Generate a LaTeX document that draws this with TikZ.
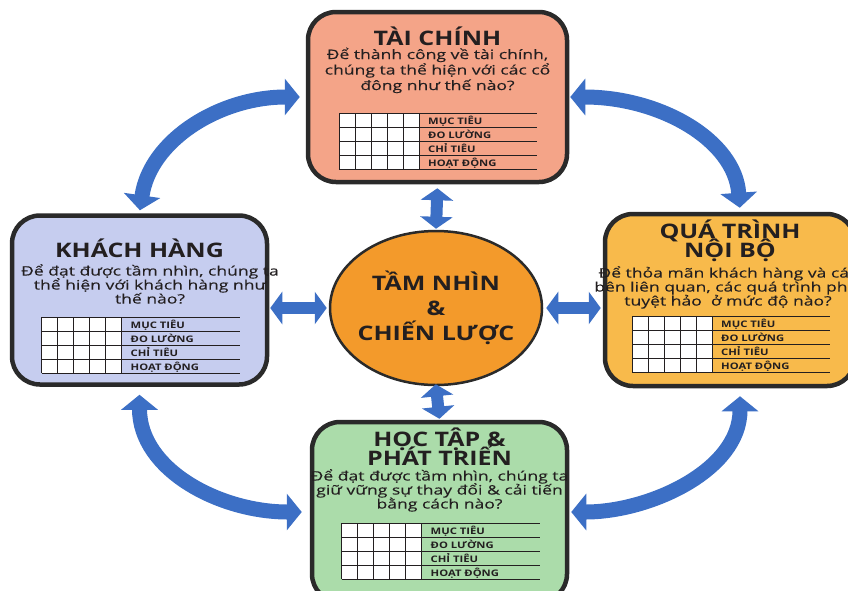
\documentclass[tikz,border=0pt]{standalone}
\usepackage{fontspec}
\setmainfont{Open Sans}[FakeStretch=1.25]
\newfontfamily\qfont{Open Sans}[FakeStretch=1.35,FakeBold=0.2]
\usetikzlibrary{arrows.meta,shapes.geometric}
\definecolor{ink}{HTML}{231F20}
\definecolor{cardline}{HTML}{2A2A2A}
\definecolor{arrowblue}{HTML}{3C6FC5}
\definecolor{finfill}{HTML}{F4A488}
\definecolor{custfill}{HTML}{C6CDEF}
\definecolor{procfill}{HTML}{F8BA4B}
\definecolor{learnfill}{HTML}{ABDCAA}
\definecolor{visionfill}{HTML}{F39A2B}
\lineskiplimit=-30pt

\newcommand{\scorecard}[3]{%
  \fill[white] (#2,#3) rectangle (#2+80,#3+56);
  \foreach \c in {0,...,5} \draw[gridline] (#2+16*\c,#3) -- (#2+16*\c,#3+56);
  \foreach \r in {0,...,4} \draw[gridline] (#2,#3+14*\r) -- (#2+198,#3+14*\r);
  \foreach \t [count=\r from 0] in {MỤC TIÊU,ĐO LƯỜNG,CHỈ TIÊU,HOẠT ĐỘNG}
    \node[lbl] (#1-\r) at (#2+89,#3+14*\r+11) {\t};
}

\begin{document}
\begin{tikzpicture}[x=1pt,y=-1pt,
  card/.style={rectangle, rounded corners=28pt, draw=cardline, line width=4.5pt},
  ttl/.style={font=\fontsize{20}{18.5}\selectfont\bfseries, text=ink, align=center, inner sep=0pt},
  qst/.style={font=\qfont\fontsize{13}{14}\selectfont, text=ink, align=center, inner sep=0pt, anchor=north},
  lbl/.style={font=\fontsize{9}{9}\selectfont\bfseries, text=ink, inner sep=0pt, anchor=base west},
  gridline/.style={draw=ink, line width=0.8pt},
  bigarrow/.style={draw=arrowblue, line width=15pt, {Triangle[width=36pt,length=15pt]}-{Triangle[width=36pt,length=15pt]}},
  smallarrow/.style={draw=arrowblue, line width=12pt, {Triangle[width=32pt,length=12pt]}-{Triangle[width=32pt,length=12pt]}}]
\useasboundingbox (0,0) rectangle (848,590);

\node[card, fill=finfill, minimum width=259pt, minimum height=170pt] (tc) at (437.5,97) {};
\node[card, fill=custfill, minimum width=255pt, minimum height=169pt] (kh) at (139.5,300) {};
\node[card, fill=procfill, minimum width=250pt, minimum height=172pt] (qt) at (730,300) {};
\node[card, fill=learnfill, minimum width=255pt, minimum height=180pt] (ht) at (439.5,512) {};
\node[ellipse, draw=cardline, line width=2.5pt, fill=visionfill, minimum width=212pt, minimum height=154pt] (vs) at (436,308) {};
\node[font=\fontsize{20}{25}\selectfont\bfseries, text=ink, align=center, inner sep=0pt] (vstext) at (vs.center)
  {TẦM NHÌN\\ \&\\ CHIẾN LƯỢC};

\node[ttl, anchor=base] (tctitle) at (437.5,45) {TÀI CHÍNH};
\node[qst, font=\qfont\fontsize{13}{15.5}\selectfont] (tctext) at (437.5,47.5) {Để thành công về tài chính,\\ chúng ta thể hiện với các cổ\\ đông như thế nào?};
\scorecard{tc}{339}{113}

\node[ttl, anchor=base] (khtitle) at (139.5,257) {KHÁCH HÀNG};
\node[qst] (khtext) at (150,264) {Để đạt được tầm nhìn, chúng ta\\ thể hiện với khách hàng như\\ thế nào?};
\scorecard{kh}{41.5}{317}

\node[ttl, anchor=north] (qttitle) at (730,220) {QUÁ TRÌNH\\ NỘI BỘ};
\node[qst] (qttext) at (728,266) {Để thỏa mãn khách hàng và các\\ bên liên quan, các quá trình phải\\ tuyệt hảo \ ở mức độ nào?};
\scorecard{qt}{632}{316}

\node[ttl, anchor=north] (httitle) at (439.5,428) {HỌC TẬP \&\\ PHÁT TRIỂN};
\node[qst] (httext) at (439.5,469) {Để đạt được tầm nhìn, chúng ta\\ giữ vững sự thay đổi \& cải tiến\\ bằng cách nào?};
\scorecard{ht}{341.5}{523}

\draw[smallarrow, shorten <=4pt, shorten >=1pt] (tc.south) -- (vs.north);
\draw[smallarrow, shorten <=-2pt, shorten >=1pt] (vs.south) -- (ht.north);
\draw[smallarrow, shorten <=1pt, shorten >=2pt] (kh.east |- vs.west) -- (vs.west);
\draw[smallarrow, shorten <=3pt, shorten >=2pt] (vs.east) -- (qt.west |- vs.east);

\draw[bigarrow, shorten <=6pt, shorten >=3pt] (tc.west) .. controls (220,97) and (150,140) .. (kh.north);
\draw[bigarrow, shorten <=1pt, shorten >=4pt] (tc.east) .. controls (660,97) and (735,140) .. ([xshift=10pt]qt.north);
\draw[bigarrow, shorten <=8pt, shorten >=8pt] (kh.south) .. controls (139.5,470) and (220,512) .. (ht.west);
\draw[bigarrow, shorten <=8pt, shorten >=2pt] ([xshift=10pt]qt.south) .. controls (740,470) and (650,512) .. (ht.east);
\end{tikzpicture}
\end{document}
